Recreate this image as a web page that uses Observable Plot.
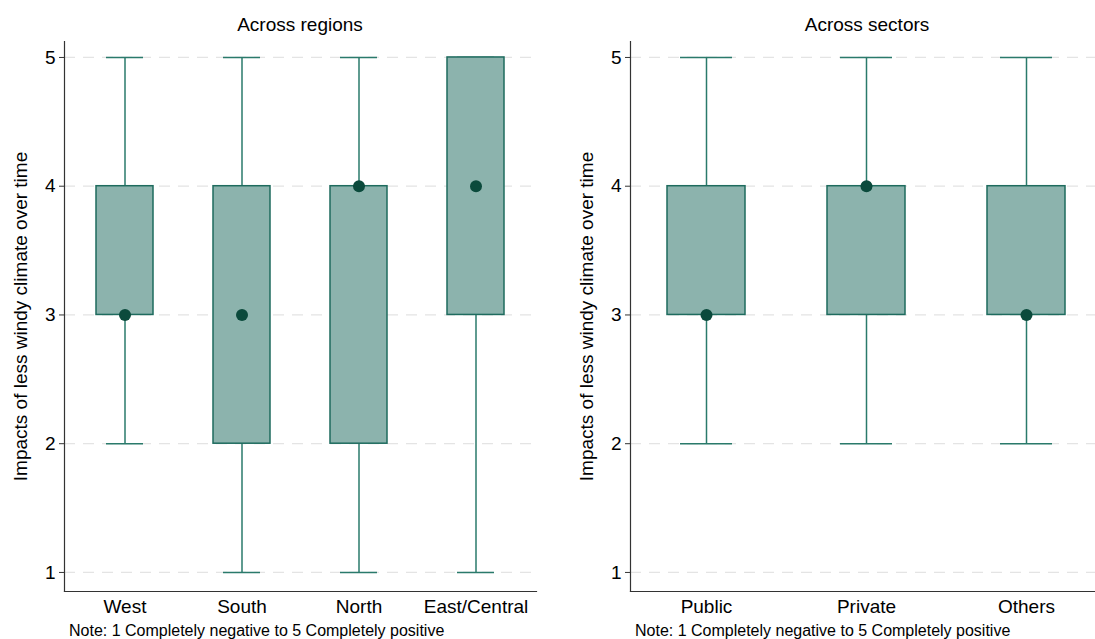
<!DOCTYPE html>
<html>
<head>
<meta charset="utf-8">
<script src="https://cdn.jsdelivr.net/npm/d3@7"></script>
<script src="https://cdn.jsdelivr.net/npm/@observablehq/plot@0.6"></script>
<style>
  html, body { margin: 0; padding: 0; background: #fff; overflow: hidden; width: 1095px; height: 639px; }
  body { position: relative; font-family: "Liberation Sans", Arial, sans-serif; color: #000; }
  .panel { position: absolute; top: 0; width: 545px; }
  .panel svg { max-width: none !important; }
  .ttl { position: absolute; top: 14px; font-size: 19px; line-height: 22px; text-align: center; white-space: nowrap; }
  .note { position: absolute; top: 622px; font-size: 16px; line-height: 18px; white-space: nowrap; }
</style>
</head>
<body>
<div id="left" class="panel" style="left:0px"></div>
<div id="right" class="panel" style="left:566px"></div>
<div class="ttl" style="left:200px;width:200px">Across regions</div>
<div class="ttl" style="left:767px;width:200px">Across sectors</div>
<div class="note" style="left:69px">Note: 1 Completely negative to 5 Completely positive</div>
<div class="note" style="left:635px">Note: 1 Completely negative to 5 Completely positive</div>
<script>
// ---- Data ----
const regionCats = ["West", "South", "North", "East/Central"];
const regionMin  = [2, 1, 1, 1];
const regionQ1   = [3, 2, 2, 3];
const regionMed  = [3, 3, 4, 4];
const regionQ3   = [4, 4, 4, 5];
const regionMax  = [5, 5, 5, 5];

const sectorCats = ["Public", "Private", "Others"];
const sectorMin  = [2, 2, 2];
const sectorQ1   = [3, 3, 3];
const sectorMed  = [3, 4, 3];
const sectorQ3   = [4, 4, 4];
const sectorMax  = [5, 5, 5];

const yTicks = [1, 2, 3, 4, 5];
const yTitle = "Impacts of less windy climate over time";

const boxFill = "#8cb3ad";
const boxStroke = "#1e6b5e";
const whiskerColor = "#2a7a6b";
const dotColor = "#0b4a3c";

function table(cats, mn, q1, md, q3, mx) {
  return cats.map((c, i) => ({cat: c, min: mn[i], q1: q1[i], med: md[i], q3: q3[i], max: mx[i]}));
}

function makeBox(cats, mn, q1, md, q3, mx, capInset, pInner, pOuter) {
  const data = table(cats, mn, q1, md, q3, mx);
  const svg = Plot.plot({
    width: 545,
    height: 620,
    marginLeft: 64,
    marginRight: 9,
    marginTop: 41,
    marginBottom: 29,
    style: {fontFamily: "'Liberation Sans', Arial, sans-serif", fontSize: "19px", color: "#000", background: "transparent", overflow: "visible", maxWidth: "none"},
    x: {domain: cats, paddingInner: pInner, paddingOuter: pOuter, label: null},
    y: {domain: [0.852, 5.124], label: null},
    marks: [
      Plot.gridY(yTicks, {stroke: "#e4e4e4", strokeOpacity: 1, strokeWidth: 1.2, strokeDasharray: "11,8"}),
      Plot.frame({anchor: "left", stroke: "#333", strokeWidth: 1.2}),
      Plot.frame({anchor: "bottom", stroke: "#333", strokeWidth: 1.2}),
      Plot.axisY(yTicks, {tickSize: 5, tickPadding: 4, fontSize: 19, stroke: "#333", tickFormat: d => String(d), label: null}),
      Plot.axisX({tickSize: 0, tickPadding: 8, fontSize: 19, label: null}),
      Plot.text([yTitle], {frameAnchor: "left", textAnchor: "middle", dx: -44, rotate: -90, fontSize: 19, fill: "#000"}),
      Plot.ruleX(data, {x: "cat", y1: "min", y2: "q1", stroke: whiskerColor, strokeWidth: 1.5}),
      Plot.ruleX(data, {x: "cat", y1: "q3", y2: "max", stroke: whiskerColor, strokeWidth: 1.5}),
      Plot.tickY(data, {x: "cat", y: "min", stroke: whiskerColor, strokeWidth: 1.5, insetLeft: capInset, insetRight: capInset}),
      Plot.tickY(data, {x: "cat", y: "max", stroke: whiskerColor, strokeWidth: 1.5, insetLeft: capInset, insetRight: capInset}),
      Plot.barY(data, {x: "cat", y1: "q1", y2: "q3", fill: boxFill, stroke: boxStroke, strokeWidth: 1.5}),
      Plot.dot(data, {x: "cat", y: "med", r: 6, fill: dotColor, stroke: null})
    ]
  });
  return svg;
}

document.getElementById("left").append(makeBox(regionCats, regionMin, regionQ1, regionMed, regionQ3, regionMax, 10, 0.51, 0.265));
document.getElementById("right").append(makeBox(sectorCats, sectorMin, sectorQ1, sectorMed, sectorQ3, sectorMax, 13, 0.514, 0.228));
</script>
</body>
</html>
